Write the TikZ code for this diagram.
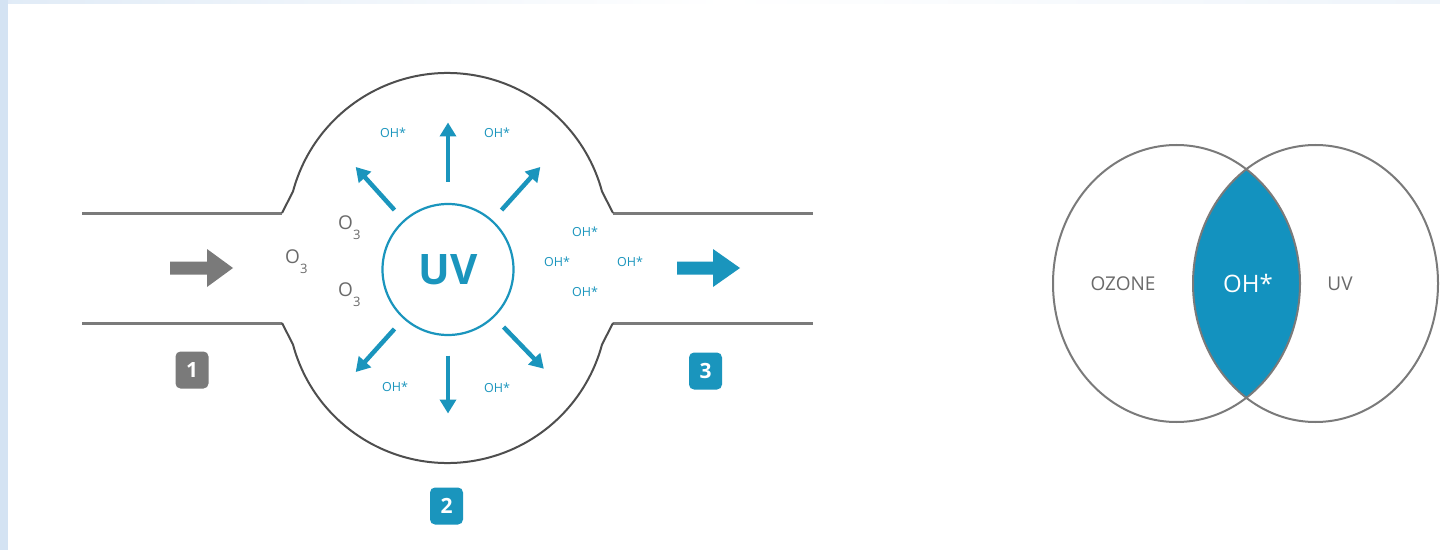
\documentclass[tikz,border=0pt]{standalone}
\usepackage{fontspec}
\setmainfont{Open Sans}
\usetikzlibrary{arrows.meta,calc,shapes.geometric}
\definecolor{uvblue}{HTML}{1A95BD}
\definecolor{lensblue}{HTML}{1392BF}
\definecolor{pipegray}{HTML}{7A7A7A}
\definecolor{bulgegray}{HTML}{4E4E4E}
\definecolor{txtgray}{HTML}{6A6A6A}
\definecolor{bgblue}{HTML}{D4E3F3}
\tikzset{
  pipe/.style={draw=pipegray, line width=3pt},
  bulge/.style={draw=bulgegray, line width=2pt, line join=round},
  ray/.style={draw=uvblue, line width=4.5pt, -{Triangle[width=16pt,length=14pt]}},
  ohlab/.style={text=uvblue, font=\fontsize{12.5}{14}\selectfont, inner sep=0pt},
  ozlab/.style={text=txtgray, font=\fontsize{19}{20}\selectfont, inner sep=0pt, anchor=base west},
  badge/.style={rounded corners=5pt, minimum width=33pt, minimum height=37pt, inner sep=0pt, text=white, font=\fontsize{21}{22}\selectfont\bfseries},
  venn/.style={ellipse, draw=pipegray, line width=2pt, minimum width=247pt, minimum height=277pt, inner sep=0pt}
}
\begin{document}
\begin{tikzpicture}[x=1pt,y=1pt]
\useasboundingbox (0,0) rectangle (1440,550);
% background frame
\fill[bgblue] (0,0) rectangle (1440,550);
\shade[left color=bgblue!70!white, right color=bgblue!40!white, middle color=white] (8,546) rectangle (1440,550);
\fill[white] (8,0) rectangle (1440,546);

% pipes
\draw[pipe] (82,337) -- (282,337);
\draw[pipe] (82,227) -- (282,227);
\draw[pipe] (613,337) -- (813,337);
\draw[pipe] (613,227) -- (813,227);
% bulge
\draw[bulge] (282,337) -- ([shift={(447.5,317)}]165:160pt) arc[start angle=165,end angle=15,radius=160pt] -- (613,337);
\draw[bulge] (282,227) -- ([shift={(447.5,247)}]195:160pt) arc[start angle=195,end angle=345,radius=160pt] -- (613,227);

% UV lamp
\node[circle, draw=uvblue, line width=2.2pt, minimum size=131pt, inner sep=0pt,
      text=uvblue, font=\fontsize{42}{44}\selectfont\bfseries] (uv) at (448,280.5) {UV};
\foreach \i/\a/\ra/\rb in {1/90/88/147, 2/270/86/144, 3/132/80/138, 4/48/80/138, 5/228/80/138, 6/314/80/138}{
  \coordinate (s\i) at ($(uv.center)+(\a:\ra pt)$);
  \coordinate (t\i) at ($(uv.center)+(\a:\rb pt)$);
  \draw[ray] (s\i) -- (t\i);
}

% OH* labels
\node[ohlab] (oh1) at (393,417) {OH*};
\node[ohlab] (oh2) at (497,417) {OH*};
\node[ohlab] (oh3) at (395,163) {OH*};
\node[ohlab] (oh4) at (497,162) {OH*};
\node[ohlab] (oh5) at (585,318) {OH*};
\node[ohlab] (oh6) at (557,288) {OH*};
\node[ohlab] (oh7) at (585,258) {OH*};
\node[ohlab] (oh8) at (630,288) {OH*};

% O3 labels
\node[ozlab] (oza) at (338,320.5) {O\raisebox{-10pt}{\fontsize{13}{13}\selectfont 3}};
\node[ozlab] (ozb) at (338,253.5) {O\raisebox{-10pt}{\fontsize{13}{13}\selectfont 3}};
\node[ozlab] (ozc) at (285,286.5) {O\raisebox{-10pt}{\fontsize{13}{13}\selectfont 3}};

% flow arrows
\fill[pipegray] (170,288.5) -- (207,288.5) -- (207,301) -- (233,282) -- (207,263) -- (207,275.5) -- (170,275.5) -- cycle;
\fill[uvblue] (677,288.5) -- (713,288.5) -- (713,301) -- (740,282) -- (713,263) -- (713,275.5) -- (677,275.5) -- cycle;

% badges
\node[badge, fill=pipegray] (b1) at (192,180) {1};
\node[badge, fill=uvblue] (b2) at (446.5,44) {2};
\node[badge, fill=uvblue] (b3) at (705.5,179) {3};

% Venn diagram
\begin{scope}
  \clip (1176.5,266.5) ellipse [x radius=123.5pt, y radius=138.5pt];
  \fill[lensblue] (1315.5,266.5) ellipse [x radius=122.5pt, y radius=138.5pt];
\end{scope}
\node[venn] (ozone) at (1176.5,266.5) {};
\node[venn, minimum width=245pt] (uvc) at (1315.5,266.5) {};
\node[text=txtgray, font=\fontsize{19}{20}\selectfont, inner sep=0pt] (tozone) at (1123,266.5) {OZONE};
\node[text=white, font=\fontsize{24}{26}\selectfont, inner sep=0pt] (toh) at (1248,266.5) {OH*};
\node[text=txtgray, font=\fontsize{19}{20}\selectfont, inner sep=0pt] (tuv) at (1340,266.5) {UV};
\end{tikzpicture}
\end{document}
